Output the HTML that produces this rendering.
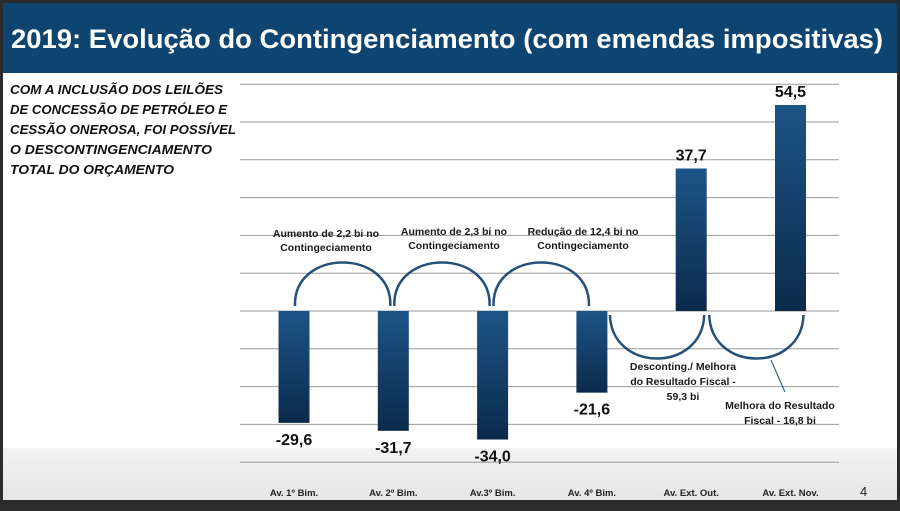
<!DOCTYPE html>
<html><head><meta charset="utf-8"><style>
html,body{margin:0;padding:0;background:#2b2b2b}
svg{display:block}
text{font-family:"Liberation Sans",sans-serif}
</style></head><body>
<svg id="chart" width="900" height="511" viewBox="0 0 900 511" xmlns="http://www.w3.org/2000/svg">
<defs>
<linearGradient id="bg" x1="0" y1="0" x2="0" y2="1"><stop offset="0" stop-color="#1d5487"/><stop offset="1" stop-color="#0b2a4a"/></linearGradient>
<linearGradient id="band" x1="0" y1="0" x2="0" y2="1"><stop offset="0" stop-color="#f2f2f2"/><stop offset="1" stop-color="#e6e6e6"/></linearGradient>
</defs>
<rect x="0" y="0" width="900" height="511" fill="#2b2b2b"/>
<rect x="3" y="3" width="894" height="497" fill="#ffffff"/>
<rect x="3" y="448" width="894" height="52" fill="url(#band)"/>
<rect x="3" y="3" width="894" height="70" fill="#0e4470"/>
<text x="11" y="48" font-size="27" font-weight="bold" fill="#fff" textLength="872" lengthAdjust="spacingAndGlyphs">2019: Evolução do Contingenciamento (com emendas impositivas)</text>
<g font-size="13" font-weight="bold" font-style="italic" fill="#111">
<text x="10" y="94" textLength="213" lengthAdjust="spacingAndGlyphs">COM A INCLUSÃO DOS LEILÕES</text>
<text x="10" y="114" textLength="217" lengthAdjust="spacingAndGlyphs">DE CONCESSÃO DE PETRÓLEO E</text>
<text x="10" y="134" textLength="226" lengthAdjust="spacingAndGlyphs">CESSÃO ONEROSA, FOI POSSÍVEL</text>
<text x="10" y="154" textLength="202" lengthAdjust="spacingAndGlyphs">O DESCONTINGENCIAMENTO</text>
<text x="10" y="174" textLength="164" lengthAdjust="spacingAndGlyphs">TOTAL DO ORÇAMENTO</text>
</g>
<g id="grid"></g>
<g id="bars"></g>
<g id="arcs" fill="none" stroke="#24507a" stroke-width="2.5"></g>
<g id="labels"></g>
<text x="860" y="496" font-size="13" fill="#222">4</text>
</svg>
<script>
const categories = ["Av. 1º Bim.","Av. 2º Bim.","Av.3º Bim.","Av. 4º Bim.","Av. Ext. Out.","Av. Ext. Nov."];
const values = [-29.6,-31.7,-34.0,-21.6,37.7,54.5];
const valueLabels = ["-29,6","-31,7","-34,0","-21,6","37,7","54,5"];
const gridTicks = [60,50,40,30,20,10,0,-10,-20,-30,-40];
const ns="http://www.w3.org/2000/svg";
const y0=311, pxPerUnit=3.78;
const y=v=>y0-v*pxPerUnit;
const xc=i=>294+i*99.3;
const bw=31;
function mk(tag,attrs,parent){const e=document.createElementNS(ns,tag);for(const k in attrs)e.setAttribute(k,attrs[k]);parent.appendChild(e);return e;}
const grid=document.getElementById('grid');
gridTicks.forEach(t=>{
  const l=mk('line',{x1:240,x2:839,y1:y(t),y2:y(t),stroke:'#9a9a9a','stroke-width':1},grid);
  
  
});
const bars=document.getElementById('bars');
const labels=document.getElementById('labels');
values.forEach((v,i)=>{
  const top=Math.min(y(v),y0), h=Math.abs(y(v)-y0);
  const r=mk('rect',{x:xc(i)-bw/2,y:top,width:bw,height:h,fill:'url(#bg)'},bars);
  
  
  const ty = v<0 ? y(v)+22 : y(v)-8;
  const t=mk('text',{x:xc(i),y:ty,'text-anchor':'middle','font-size':16,'font-weight':'bold',fill:'#111'},labels);
  t.textContent=valueLabels[i];
  
  
  const c=mk('text',{x:xc(i),y:496,'text-anchor':'middle','font-size':9.5,'font-weight':'bold',fill:'#222'},labels);
  c.textContent=categories[i];
  
  
});
const arcs=document.getElementById('arcs');
for(let i=0;i<3;i++){
  const a=xc(i)+1, b=xc(i+1)-3, yy=y0-5, k=58;
  const p=mk('path',{d:`M${a},${yy} C${a-2},${yy-k} ${b+2},${yy-k} ${b},${yy}`},arcs);
  
  
}
for(let i=3;i<5;i++){
  const a=xc(i)+18, b=xc(i+1)+13, yy=y0+4, k=58;
  const p=mk('path',{d:`M${a},${yy} C${a+2},${yy+k} ${b-2},${yy+k} ${b},${yy}`},arcs);
  
  
}
mk('line',{x1:771,y1:360,x2:785,y2:392,stroke:'#24507a','stroke-width':1},arcs);
const ann=[
 [326,237,"Aumento de 2,2 bi no"],[326,251,"Contingeciamento"],
 [454,235,"Aumento de 2,3 bi no"],[454,249,"Contingeciamento"],
 [583,235,"Redução de 12,4 bi no"],[583,249,"Contingeciamento"],
 [683,370,"Desconting./ Melhora"],[683,385,"do Resultado Fiscal -"],[683,400,"59,3 bi"],
 [780,409,"Melhora do Resultado"],[780,424,"Fiscal - 16,8 bi"]];
ann.forEach(a=>{
  const t=mk('text',{x:a[0],y:a[1],'text-anchor':'middle','font-size':10.5,'font-weight':'bold',fill:'#1a1a1a'},labels);
  t.textContent=a[2];
  
  
});
</script>
</body></html>
